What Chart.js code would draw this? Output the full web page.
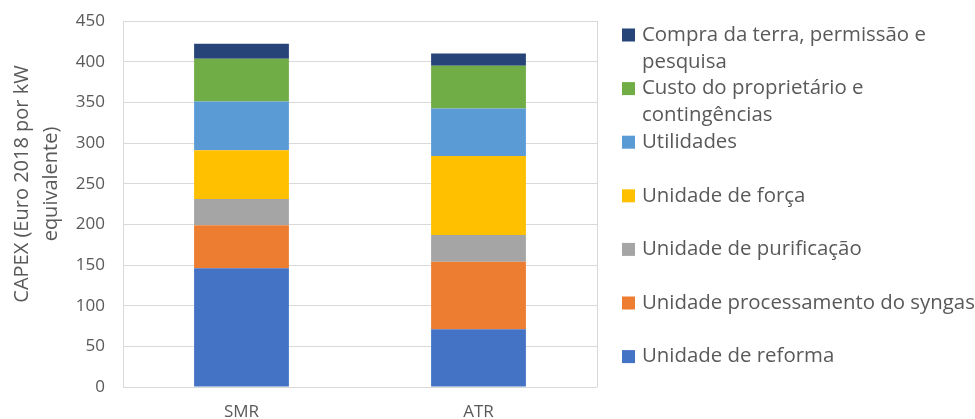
<!DOCTYPE html>
<html>
<head>
<meta charset="utf-8">
<script src="https://cdn.jsdelivr.net/npm/chart.js@4.4.1/dist/chart.umd.min.js"></script>
<style>
    html, body { margin: 0; padding: 0; background: #ffffff; }
    #wrap { width: 975px; height: 419px; overflow: hidden; }
</style>
</head>
<body>
<div id="wrap"><canvas id="capex-chart" width="975" height="419"></canvas></div>
<script>
// Data (CAPEX, Euro 2018 per kW equivalent)
const categories = ['SMR', 'ATR'];

const unidadeReforma = [146, 71];
const unidadeSyngas = [53, 83];
const unidadePurificacao = [32, 33];
const unidadeForca = [60, 97];
const utilidades = [60, 58.5];
const custoProprietario = [52.5, 52.5];
const compraTerra = [18.5, 15];

// legend text, split into the lines shown in the picture (bottom of stack first)
const seriesLabels = [
    ['Unidade de reforma'],
    ['Unidade processamento do syngas'],
    ['Unidade de purificação'],
    ['Unidade de força'],
    ['Utilidades'],
    ['Custo do proprietário e', 'contingências'],
    ['Compra da terra, permissão e', 'pesquisa']
];
const seriesValues = [unidadeReforma, unidadeSyngas, unidadePurificacao, unidadeForca, utilidades, custoProprietario, compraTerra];

const yAxisTitle = ['CAPEX (Euro 2018 por kW', 'equivalente)'];
const yMin = 0;
const yMax = 450;
const yStep = 50;

const seriesColors = ['#4472C4', '#ED7D31', '#A5A5A5', '#FFC000', '#5B9BD5', '#70AD47', '#264478'];
const textColor = '#595959';
const gridColor = '#d9d9d9';
const fontFamily = '"Open Sans", "Noto Sans", sans-serif';

// legend on the right and the rotated y title, drawn by hand to follow the original layout
const sideTextPlugin = {
    id: 'sideText',
    afterDraw(chart) {
        const ctx = chart.ctx;
        ctx.save();
        ctx.fillStyle = textColor;

        // y axis title
        ctx.font = `20px ${fontFamily}`;
        ctx.textAlign = 'center';
        ctx.textBaseline = 'middle';
        yAxisTitle.forEach((line, i) => {
            ctx.save();
            ctx.translate(22 + i * 29, 184);
            ctx.rotate(-Math.PI / 2);
            ctx.fillText(line, 0, 0);
            ctx.restore();
        });

        // legend, top item = last dataset
        ctx.font = `20.4px ${fontFamily}`;
        ctx.textAlign = 'left';
        const datasets = chart.data.datasets;
        for (let n = 0; n < datasets.length; n++) {
            const ds = datasets[datasets.length - 1 - n];
            const yc = 35 + n * 53.6;
            ctx.fillStyle = ds.backgroundColor;
            ctx.fillRect(622, yc - 6.5, 13, 13);
            ctx.fillStyle = textColor;
            ds.legendLines.forEach((line, k) => {
                ctx.fillText(line, 642, yc + k * 27);
            });
        }
        ctx.restore();
    }
};

const ctx = document.getElementById('capex-chart').getContext('2d');
new Chart(ctx, {
    type: 'bar',
    data: {
        labels: categories,
        datasets: seriesValues.map((values, i) => ({
            label: seriesLabels[i].join(' '),
            legendLines: seriesLabels[i],
            data: values,
            backgroundColor: seriesColors[i],
            borderWidth: 0,
            categoryPercentage: 0.8,
            barPercentage: 0.5
        }))
    },
    options: {
        responsive: false,
        animation: false,
        devicePixelRatio: 1,
        layout: {
            padding: { left: 0, right: 378, top: 21, bottom: 0 }
        },
        scales: {
            x: {
                stacked: true,
                grid: {
                    drawTicks: false,
                    lineWidth: 1,
                    // only the two outer edges of the plot area
                    color: (c) => c.index === 1 ? 'rgba(0,0,0,0)' : gridColor
                },
                border: { display: false },
                ticks: {
                    padding: 15,
                    color: textColor,
                    font: { family: fontFamily, size: 17 }
                },
                afterFit: (scale) => { scale.height = 32; }
            },
            y: {
                stacked: true,
                min: yMin,
                max: yMax,
                ticks: {
                    stepSize: yStep,
                    padding: 18,
                    color: textColor,
                    font: { family: fontFamily, size: 17 }
                },
                grid: {
                    drawTicks: false,
                    color: gridColor,
                    lineWidth: 1
                },
                border: { display: false },
                afterFit: (scale) => {
                    scale.width = 123;
                    // the tick padding should not push the plot area down
                    scale.paddingTop = 0;
                    scale.paddingBottom = 0;
                }
            }
        },
        plugins: {
            legend: { display: false },
            tooltip: { enabled: false }
        }
    },
    plugins: [sideTextPlugin]
});
</script>
</body>
</html>
